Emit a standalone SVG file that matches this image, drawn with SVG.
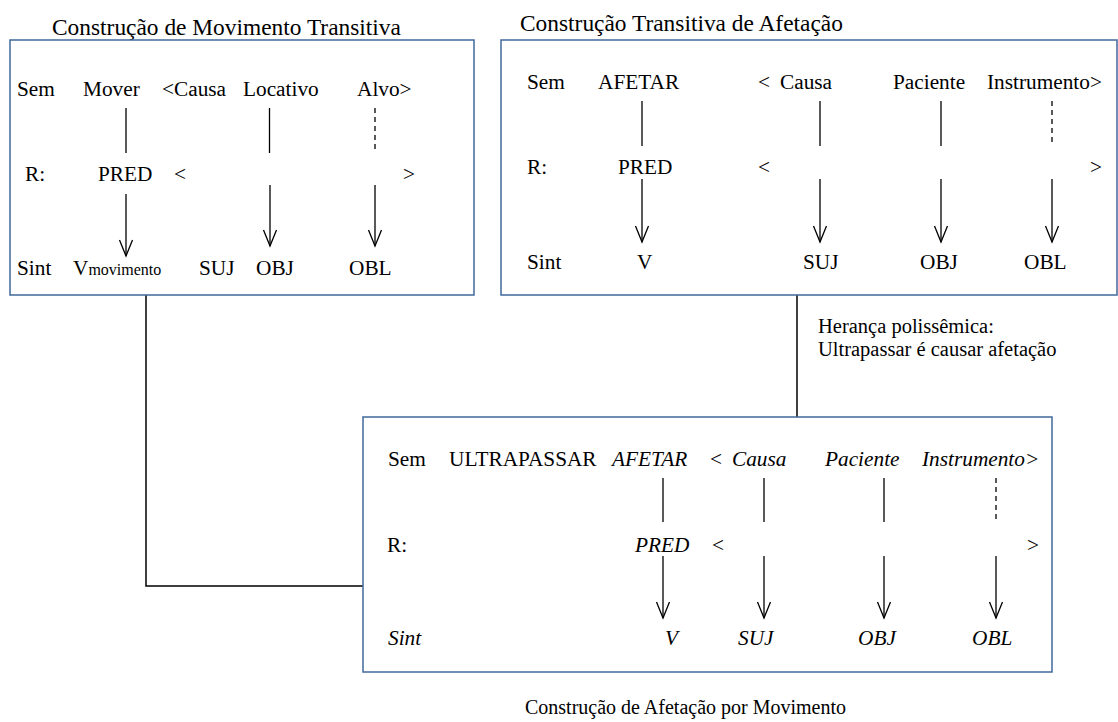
<svg xmlns="http://www.w3.org/2000/svg" width="1118" height="722" viewBox="0 0 1118 722">
  <style>
    text { font-family: "Liberation Serif", "Times New Roman", serif; font-size: 21.3px; fill: #000; }
    .title { font-size: 23.4px; }
    .note { font-size: 20.5px; }
    .caption { font-size: 20px; }
    .sub { font-size: 16px; }
    .it { font-style: italic; }
    .box { fill: #fff; stroke: #41699b; stroke-width: 1.5; }
    .link { fill: none; stroke: #000; stroke-width: 1.5; }
    .solid { stroke: #000; stroke-width: 1.3; fill: none; }
    .dash { stroke: #000; stroke-width: 1.3; fill: none; stroke-dasharray: 5 4; }
    .arrow { stroke: #000; stroke-width: 1.3; fill: none; marker-end: url(#vhead); }
  </style>
  <defs>
    <marker id="vhead" markerUnits="userSpaceOnUse" viewBox="-17 -8 18 16" markerWidth="18" markerHeight="16" refX="0" refY="0" orient="auto" overflow="visible">
      <path d="M-16,-6.5 L0,0 L-16,6.5" fill="none" stroke="#000" stroke-width="1.3"/>
    </marker>
  </defs>

  <rect width="1118" height="722" fill="#fff"/>

  <!-- connectors between constructions -->
  <g id="connectors">
    <polyline class="link" points="146,295 146,586 363,586"/>
    <line class="link" x1="797" y1="295" x2="797" y2="417"/>
  </g>

  <!-- Construção de Movimento Transitiva -->
  <g id="movimento-transitiva">
    <text class="title" x="52" y="35">Construção de Movimento Transitiva</text>
    <rect class="box" x="10" y="40" width="464" height="255"/>
    <text x="17" y="96">Sem</text>
    <text x="83" y="96">Mover</text>
    <text x="162" y="96">&lt;Causa</text>
    <text x="243" y="96">Locativo</text>
    <text x="357" y="96">Alvo&gt;</text>
    <line class="solid" x1="126" y1="108" x2="126" y2="153"/>
    <line class="solid" x1="269.5" y1="108" x2="269.5" y2="153"/>
    <line class="dash" x1="375" y1="108" x2="375" y2="153"/>
    <text x="25" y="181">R:</text>
    <text x="98" y="181">PRED</text>
    <text x="174" y="181">&lt;</text>
    <text x="403" y="181">&gt;</text>
    <line class="arrow" x1="126" y1="194" x2="126" y2="256"/>
    <line class="arrow" x1="270" y1="185" x2="270" y2="246"/>
    <line class="arrow" x1="375" y1="185" x2="375" y2="246"/>
    <text x="17" y="275">Sint</text>
    <text x="73" y="275">V<tspan class="sub">movimento</tspan></text>
    <text x="199" y="275">SUJ</text>
    <text x="256" y="275">OBJ</text>
    <text x="349" y="275">OBL</text>
  </g>

  <!-- Construção Transitiva de Afetação -->
  <g id="transitiva-afetacao">
    <text class="title" x="520" y="31">Construção Transitiva de Afetação</text>
    <rect class="box" x="501" y="40" width="616" height="255"/>
    <text x="527" y="89">Sem</text>
    <text x="598" y="89">AFETAR</text>
    <text x="758" y="89">&lt;</text>
    <text x="780" y="89">Causa</text>
    <text x="893" y="89">Paciente</text>
    <text x="987" y="89">Instrumento&gt;</text>
    <line class="solid" x1="642" y1="101" x2="642" y2="146"/>
    <line class="solid" x1="820" y1="101" x2="820" y2="146"/>
    <line class="solid" x1="941" y1="101" x2="941" y2="146"/>
    <line class="dash" x1="1052" y1="101" x2="1052" y2="146"/>
    <text x="527" y="174">R:</text>
    <text x="618" y="174">PRED</text>
    <text x="758" y="174">&lt;</text>
    <text x="1090" y="174">&gt;</text>
    <line class="arrow" x1="642" y1="179" x2="642" y2="242"/>
    <line class="arrow" x1="820" y1="179" x2="820" y2="242"/>
    <line class="arrow" x1="941" y1="179" x2="941" y2="242"/>
    <line class="arrow" x1="1052" y1="179" x2="1052" y2="242"/>
    <text x="527" y="269">Sint</text>
    <text x="637" y="269">V</text>
    <text x="803" y="269">SUJ</text>
    <text x="920" y="269">OBJ</text>
    <text x="1024" y="269">OBL</text>
  </g>

  <!-- inheritance link label -->
  <g id="heranca">
    <text class="note" x="818" y="333">Herança polissêmica:</text>
    <text class="note" x="818" y="356">Ultrapassar é causar afetação</text>
  </g>

  <!-- Construção de Afetação por Movimento -->
  <g id="afetacao-movimento">
    <rect class="box" x="363" y="417" width="689" height="255"/>
    <text x="388" y="466">Sem</text>
    <text x="449" y="466">ULTRAPASSAR</text>
    <text class="it" x="612" y="466">AFETAR</text>
    <text x="710" y="466">&lt;</text>
    <text class="it" x="732" y="466">Causa</text>
    <text class="it" x="825" y="466">Paciente</text>
    <text class="it" x="922" y="466">Instrumento&gt;</text>
    <line class="solid" x1="663" y1="478" x2="663" y2="522"/>
    <line class="solid" x1="764" y1="478" x2="764" y2="522"/>
    <line class="solid" x1="884" y1="478" x2="884" y2="522"/>
    <line class="dash" x1="996" y1="478" x2="996" y2="522"/>
    <text x="387" y="552">R:</text>
    <text class="it" x="635" y="552">PRED</text>
    <text x="712" y="552">&lt;</text>
    <text x="1027" y="552">&gt;</text>
    <line class="arrow" x1="663" y1="556" x2="663" y2="618"/>
    <line class="arrow" x1="764" y1="556" x2="764" y2="618"/>
    <line class="arrow" x1="884" y1="556" x2="884" y2="618"/>
    <line class="arrow" x1="996" y1="556" x2="996" y2="618"/>
    <text class="it" x="388" y="645">Sint</text>
    <text class="it" x="665" y="645">V</text>
    <text class="it" x="738" y="645">SUJ</text>
    <text class="it" x="858" y="645">OBJ</text>
    <text class="it" x="972" y="645">OBL</text>
    <text class="caption" x="525" y="714">Construção de Afetação por Movimento</text>
  </g>
</svg>
